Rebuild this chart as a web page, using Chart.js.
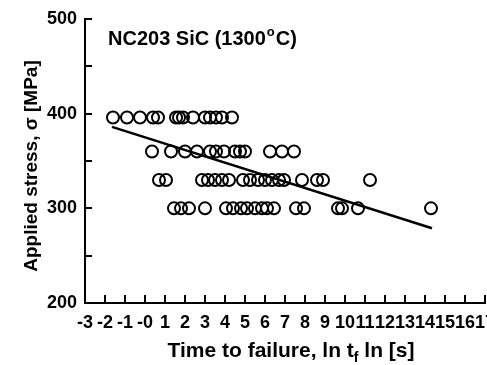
<!DOCTYPE html>
<html>
<head>
<meta charset="utf-8">
<script src="https://cdn.jsdelivr.net/npm/chart.js@4.4.1/dist/chart.umd.min.js"></script>
<style>
  html, body { margin: 0; padding: 0; background: #fff; overflow: hidden; }
  #wrap { width: 510px; height: 365px; }
</style>
</head>
<body>
<div id="wrap"><canvas id="c" width="510" height="365"></canvas></div>
<script>
// Stress levels (MPa) and ln(time to failure) values
const stress396 = 396;
const lnTf396 = [-1.6, -0.9, -0.25, 0.4, 0.65, 1.55, 1.7, 1.9, 2.4, 3.0, 3.25, 3.55, 3.85, 4.35];
const stress360 = 360;
const lnTf360 = [0.35, 1.3, 2.0, 2.6, 3.25, 3.55, 3.95, 4.5, 4.75, 5.0, 6.25, 6.85, 7.45];
const stress330 = 330;
const lnTf330 = [0.7, 1.05, 2.85, 3.15, 3.5, 3.85, 4.2, 4.9, 5.25, 5.65, 6.0, 6.35, 6.7, 6.95, 7.85, 8.6, 8.9, 11.25];
const stress300 = 300;
const lnTf300 = [1.45, 1.8, 2.2, 3.0, 4.05, 4.4, 4.8, 5.1, 5.5, 5.85, 6.1, 6.45, 7.55, 7.95, 9.65, 9.85, 10.65, 14.3];
// Fitted line end points
const fitX = [-1.65, 14.35];
const fitY = [386, 279];
// Axis ranges
const xMin = -3, xMax = 17, yMin = 200, yMax = 500;

const pts = [];
[[stress396, lnTf396], [stress360, lnTf360], [stress330, lnTf330], [stress300, lnTf300]].forEach(([s, arr]) => {
  arr.forEach(v => pts.push({ x: v, y: s }));
});
const fitPts = fitX.map((x, i) => ({ x: x, y: fitY[i] }));

const FONT = '"Liberation Sans", Arial, sans-serif';

const decor = {
  id: 'decor',
  afterDraw(chart) {
    const ctx = chart.ctx;
    const xs = chart.scales.x, ys = chart.scales.y;
    ctx.save();
    ctx.strokeStyle = '#000';
    ctx.lineWidth = 2;
    // inward x ticks
    xs.ticks.forEach(t => {
      const px = Math.round(xs.getPixelForValue(t.value));
      ctx.beginPath();
      ctx.moveTo(px, ys.bottom);
      ctx.lineTo(px, ys.bottom - 8);
      ctx.stroke();
    });
    // inward y ticks
    ys.ticks.forEach(t => {
      const py = Math.round(ys.getPixelForValue(t.value));
      ctx.beginPath();
      ctx.moveTo(xs.left, py);
      ctx.lineTo(xs.left + 7, py);
      ctx.stroke();
    });
    ctx.fillStyle = '#000';
    ctx.textBaseline = 'alphabetic';
    // inner title
    ctx.font = 'bold 20px ' + FONT;
    ctx.textAlign = 'left';
    let x = 108, y = 45;
    const t1 = 'NC203 SiC (1300';
    ctx.fillText(t1, x, y);
    x += ctx.measureText(t1).width + 1;
    ctx.font = 'bold 13px ' + FONT;
    ctx.fillText('o', x, y - 9);
    x += ctx.measureText('o').width + 1;
    ctx.font = 'bold 20px ' + FONT;
    ctx.fillText('C)', x, y);
    // x axis title
    const parts = [
      ['Time to failure, ln t', 21, 0],
      ['f', 14, 5],
      [' ln [s]', 21, 0]
    ];
    let total = 0;
    parts.forEach(p => { ctx.font = 'bold ' + p[1] + 'px ' + FONT; total += ctx.measureText(p[0]).width; });
    let cx = 291 - total / 2;
    parts.forEach(p => {
      ctx.font = 'bold ' + p[1] + 'px ' + FONT;
      ctx.fillText(p[0], cx, 357 + p[2]);
      cx += ctx.measureText(p[0]).width;
    });
    // y axis title
    ctx.save();
    ctx.translate(37, 166);
    ctx.rotate(-Math.PI / 2);
    ctx.font = 'bold 19px ' + FONT;
    ctx.textAlign = 'center';
    ctx.fillText('Applied stress, \u03c3 [MPa]', 0, 0);
    ctx.restore();
    ctx.restore();
  }
};

new Chart(document.getElementById('c'), {
  type: 'scatter',
  plugins: [decor],
  data: {
    datasets: [
      {
        data: pts,
        showLine: false,
        pointStyle: 'circle',
        pointRadius: 6,
        pointBorderWidth: 2,
        pointBorderColor: '#000',
        pointBackgroundColor: 'rgba(255,255,255,0)'
      },
      {
        type: 'line',
        data: fitPts,
        borderColor: '#000',
        borderWidth: 2.5,
        pointRadius: 0,
        fill: false
      }
    ]
  },
  options: {
    responsive: false,
    animation: false,
    devicePixelRatio: 1,
    layout: { padding: { left: 0, top: 19, right: 25, bottom: 0 } },
    plugins: { legend: { display: false }, tooltip: { enabled: false }, title: { display: false } },
    scales: {
      x: {
        type: 'linear',
        min: xMin, max: xMax,
        grid: { display: true, drawOnChartArea: false, drawTicks: false },
        border: { color: '#000', width: 2 },
        ticks: {
          stepSize: 1, autoSkip: false, maxRotation: 0, minRotation: 0,
          padding: 9, color: '#000',
          font: { family: FONT, size: 18, weight: 'bold' },
          callback: v => (v === 0 ? '-0' : String(v))
        },
        afterFit(s) { s.height = 62; }
      },
      y: {
        type: 'linear',
        min: yMin, max: yMax,
        grid: { display: true, drawOnChartArea: false, drawTicks: false },
        border: { color: '#000', width: 2 },
        ticks: {
          stepSize: 50, padding: 8, color: '#000',
          font: { family: FONT, size: 18, weight: 'bold' },
          callback: v => (v % 100 === 0 ? String(v) : '')
        },
        afterFit(s) { s.width = 85; }
      }
    }
  }
});
</script>
</body>
</html>
